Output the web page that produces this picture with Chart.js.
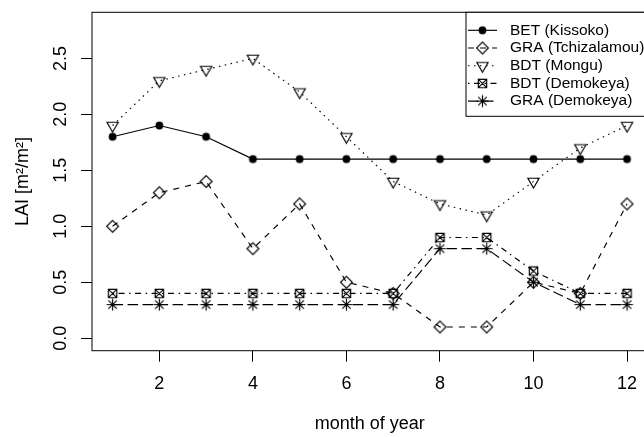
<!DOCTYPE html>
<html>
<head>
<meta charset="utf-8">
<script src="https://cdn.jsdelivr.net/npm/chart.js@4.4.1/dist/chart.umd.min.js"></script>
<style>
  html, body { margin: 0; padding: 0; background: #fff; overflow: hidden; }
  #wrap { width: 644px; height: 437px; overflow: hidden; position: relative; }
  #lai { position: absolute; left: 0; top: 0; }
</style>
</head>
<body>
<div id="wrap"><canvas id="lai" width="660" height="437"></canvas></div>
<script>
// monthly leaf area index per site
var months = [1, 2, 3, 4, 5, 6, 7, 8, 9, 10, 11, 12];
var betKissoko     = [1.8, 1.9, 1.8, 1.6, 1.6, 1.6, 1.6, 1.6, 1.6, 1.6, 1.6, 1.6];
var graTchizalamou = [1.0, 1.3, 1.4, 0.8, 1.2, 0.5, 0.4, 0.1, 0.1, 0.5, 0.4, 1.2];
var bdtMongu       = [1.9, 2.3, 2.4, 2.5, 2.2, 1.8, 1.4, 1.2, 1.1, 1.4, 1.7, 1.9];
var bdtDemokeya    = [0.4, 0.4, 0.4, 0.4, 0.4, 0.4, 0.4, 0.9, 0.9, 0.6, 0.4, 0.4];
var graDemokeya    = [0.3, 0.3, 0.3, 0.3, 0.3, 0.3, 0.3, 0.8, 0.8, 0.5, 0.3, 0.3];
var seriesNames = ["BET (Kissoko)", "GRA (Tchizalamou)", "BDT (Mongu)", "BDT (Demokeya)", "GRA (Demokeya)"];
var xTicks = [2, 4, 6, 8, 10, 12];
var yTicks = [0.0, 0.5, 1.0, 1.5, 2.0, 2.5];
var yTickLabels = ["0.0", "0.5", "1.0", "1.5", "2.0", "2.5"];

var FONT = "'Liberation Sans', Arial, Helvetica, sans-serif";
var R = 4.2;
var LW = 1.15;

// R-like plotting symbols as small canvases
function makeMarker(kind) {
    var c = document.createElement('canvas');
    c.width = 17; c.height = 17;
    var g = c.getContext('2d');
    g.translate(8.5, 8.5);
    g.strokeStyle = '#000';
    g.fillStyle = '#000';
    g.lineWidth = LW;
    g.beginPath();
    if (kind === 'circle') {
        g.arc(0, 0, 3.9, 0, Math.PI * 2);
        g.fill();
        return c;
    }
    if (kind === 'diamond') {
        var d = R * Math.SQRT2;
        g.moveTo(0, -d); g.lineTo(d, 0); g.lineTo(0, d); g.lineTo(-d, 0); g.closePath();
    } else if (kind === 'triangle') {
        var r = 1.55 * R;
        var xc = r * Math.cos(Math.PI / 6), yc = r * 0.5;
        g.moveTo(0, r); g.lineTo(xc, -yc); g.lineTo(-xc, -yc); g.closePath();
    } else if (kind === 'squareX') {
        g.rect(-R, -R, 2 * R, 2 * R);
        g.moveTo(-R, -R); g.lineTo(R, R);
        g.moveTo(-R, R); g.lineTo(R, -R);
    } else if (kind === 'asterisk') {
        var p = R * Math.SQRT2;
        g.moveTo(-p, 0); g.lineTo(p, 0);
        g.moveTo(0, -p); g.lineTo(0, p);
        g.moveTo(-R, -R); g.lineTo(R, R);
        g.moveTo(-R, R); g.lineTo(R, -R);
    }
    g.stroke();
    return c;
}

var markers = [makeMarker('circle'), makeMarker('diamond'), makeMarker('triangle'), makeMarker('squareX'), makeMarker('asterisk')];
var dashes = [[], [6, 6], [1.5, 4.5], [1.5, 4.5, 6, 4.5], [10.5, 4.5]];
var values = [betKissoko, graTchizalamou, bdtMongu, bdtDemokeya, graDemokeya];

var datasets = values.map(function (vals, i) {
    return {
        label: seriesNames[i],
        data: months.map(function (m, j) { return { x: m, y: vals[j] }; }),
        borderColor: '#000',
        borderWidth: LW,
        borderDash: dashes[i],
        pointStyle: markers[i],
        pointRadius: 5,
        pointHoverRadius: 5,
        tension: 0,
        fill: false
    };
});

// box, rotated y labels, axis titles and legend
var frame = {
    id: 'frame',
    afterDraw: function (chart) {
        var ctx = chart.ctx;
        var a = chart.chartArea;
        var ys = chart.scales.y;
        ctx.save();
        ctx.strokeStyle = '#000';
        ctx.lineWidth = 1;
        ctx.strokeRect(a.left, a.top, a.right - a.left, a.bottom - a.top);

        ctx.fillStyle = '#000';
        ctx.font = '18px ' + FONT;
        ctx.textAlign = 'center';
        ctx.textBaseline = 'middle';
        yTicks.forEach(function (v, i) {
            ctx.save();
            ctx.translate(61, ys.getPixelForValue(v));
            ctx.rotate(-Math.PI / 2);
            ctx.fillText(yTickLabels[i], 0, 0);
            ctx.restore();
        });

        ctx.save();
        ctx.translate(23, (a.top + a.bottom) / 2);
        ctx.rotate(-Math.PI / 2);
        ctx.fillText('LAI [m\u00B2/m\u00B2]', 0, 0);
        ctx.restore();
        ctx.fillText('month of year', (a.left + a.right) / 2, 424);

        // legend in the top right corner
        var lx = 466, ly = a.top, lw = a.right - lx, lh = 104;
        ctx.fillStyle = '#fff';
        ctx.fillRect(lx, ly, lw, lh);
        ctx.strokeRect(lx, ly, lw, lh);
        ctx.font = '15.5px ' + FONT;
        ctx.textAlign = 'left';
        ctx.fillStyle = '#000';
        seriesNames.forEach(function (name, i) {
            var y = ly + 18 + i * 17.7;
            ctx.save();
            ctx.lineWidth = LW;
            ctx.setLineDash(dashes[i]);
            ctx.beginPath();
            ctx.moveTo(468, y);
            ctx.lineTo(497, y);
            ctx.stroke();
            ctx.restore();
            ctx.drawImage(markers[i], 482.5 - 8.5, y - 8.5);
            ctx.fillText(name, 510, y);
        });
        ctx.restore();
    }
};

var config = {
    type: 'line',
    data: { datasets: datasets },
    options: {
        responsive: false,
        animation: false,
        events: [],
        layout: { padding: { left: 0, top: 12.3, right: 12.4, bottom: 0 } },
        plugins: { legend: { display: false }, tooltip: { enabled: false } },
        scales: {
            x: {
                type: 'linear',
                min: 0.56,
                max: 12.44,
                afterBuildTicks: function (scale) {
                    scale.ticks = xTicks.map(function (v) { return { value: v }; });
                },
                afterFit: function (scale) { scale.height = 86.3; },
                border: { display: false },
                grid: { drawOnChartArea: false, drawTicks: true, tickLength: 11, color: '#000', lineWidth: 1 },
                ticks: { color: '#000', font: { family: FONT, size: 18 }, padding: 12, maxRotation: 0 }
            },
            y: {
                type: 'linear',
                min: -0.112,
                max: 2.912,
                afterBuildTicks: function (scale) {
                    scale.ticks = yTicks.map(function (v) { return { value: v }; });
                },
                afterFit: function (scale) { scale.width = 92; },
                border: { display: false },
                grid: { drawOnChartArea: false, drawTicks: true, tickLength: 11, color: '#000', lineWidth: 1 },
                ticks: { display: false }
            }
        }
    },
    plugins: [frame]
};

var ctx = document.getElementById('lai').getContext('2d');
window.laiChart = new Chart(ctx, config);
</script>
</body>
</html>
